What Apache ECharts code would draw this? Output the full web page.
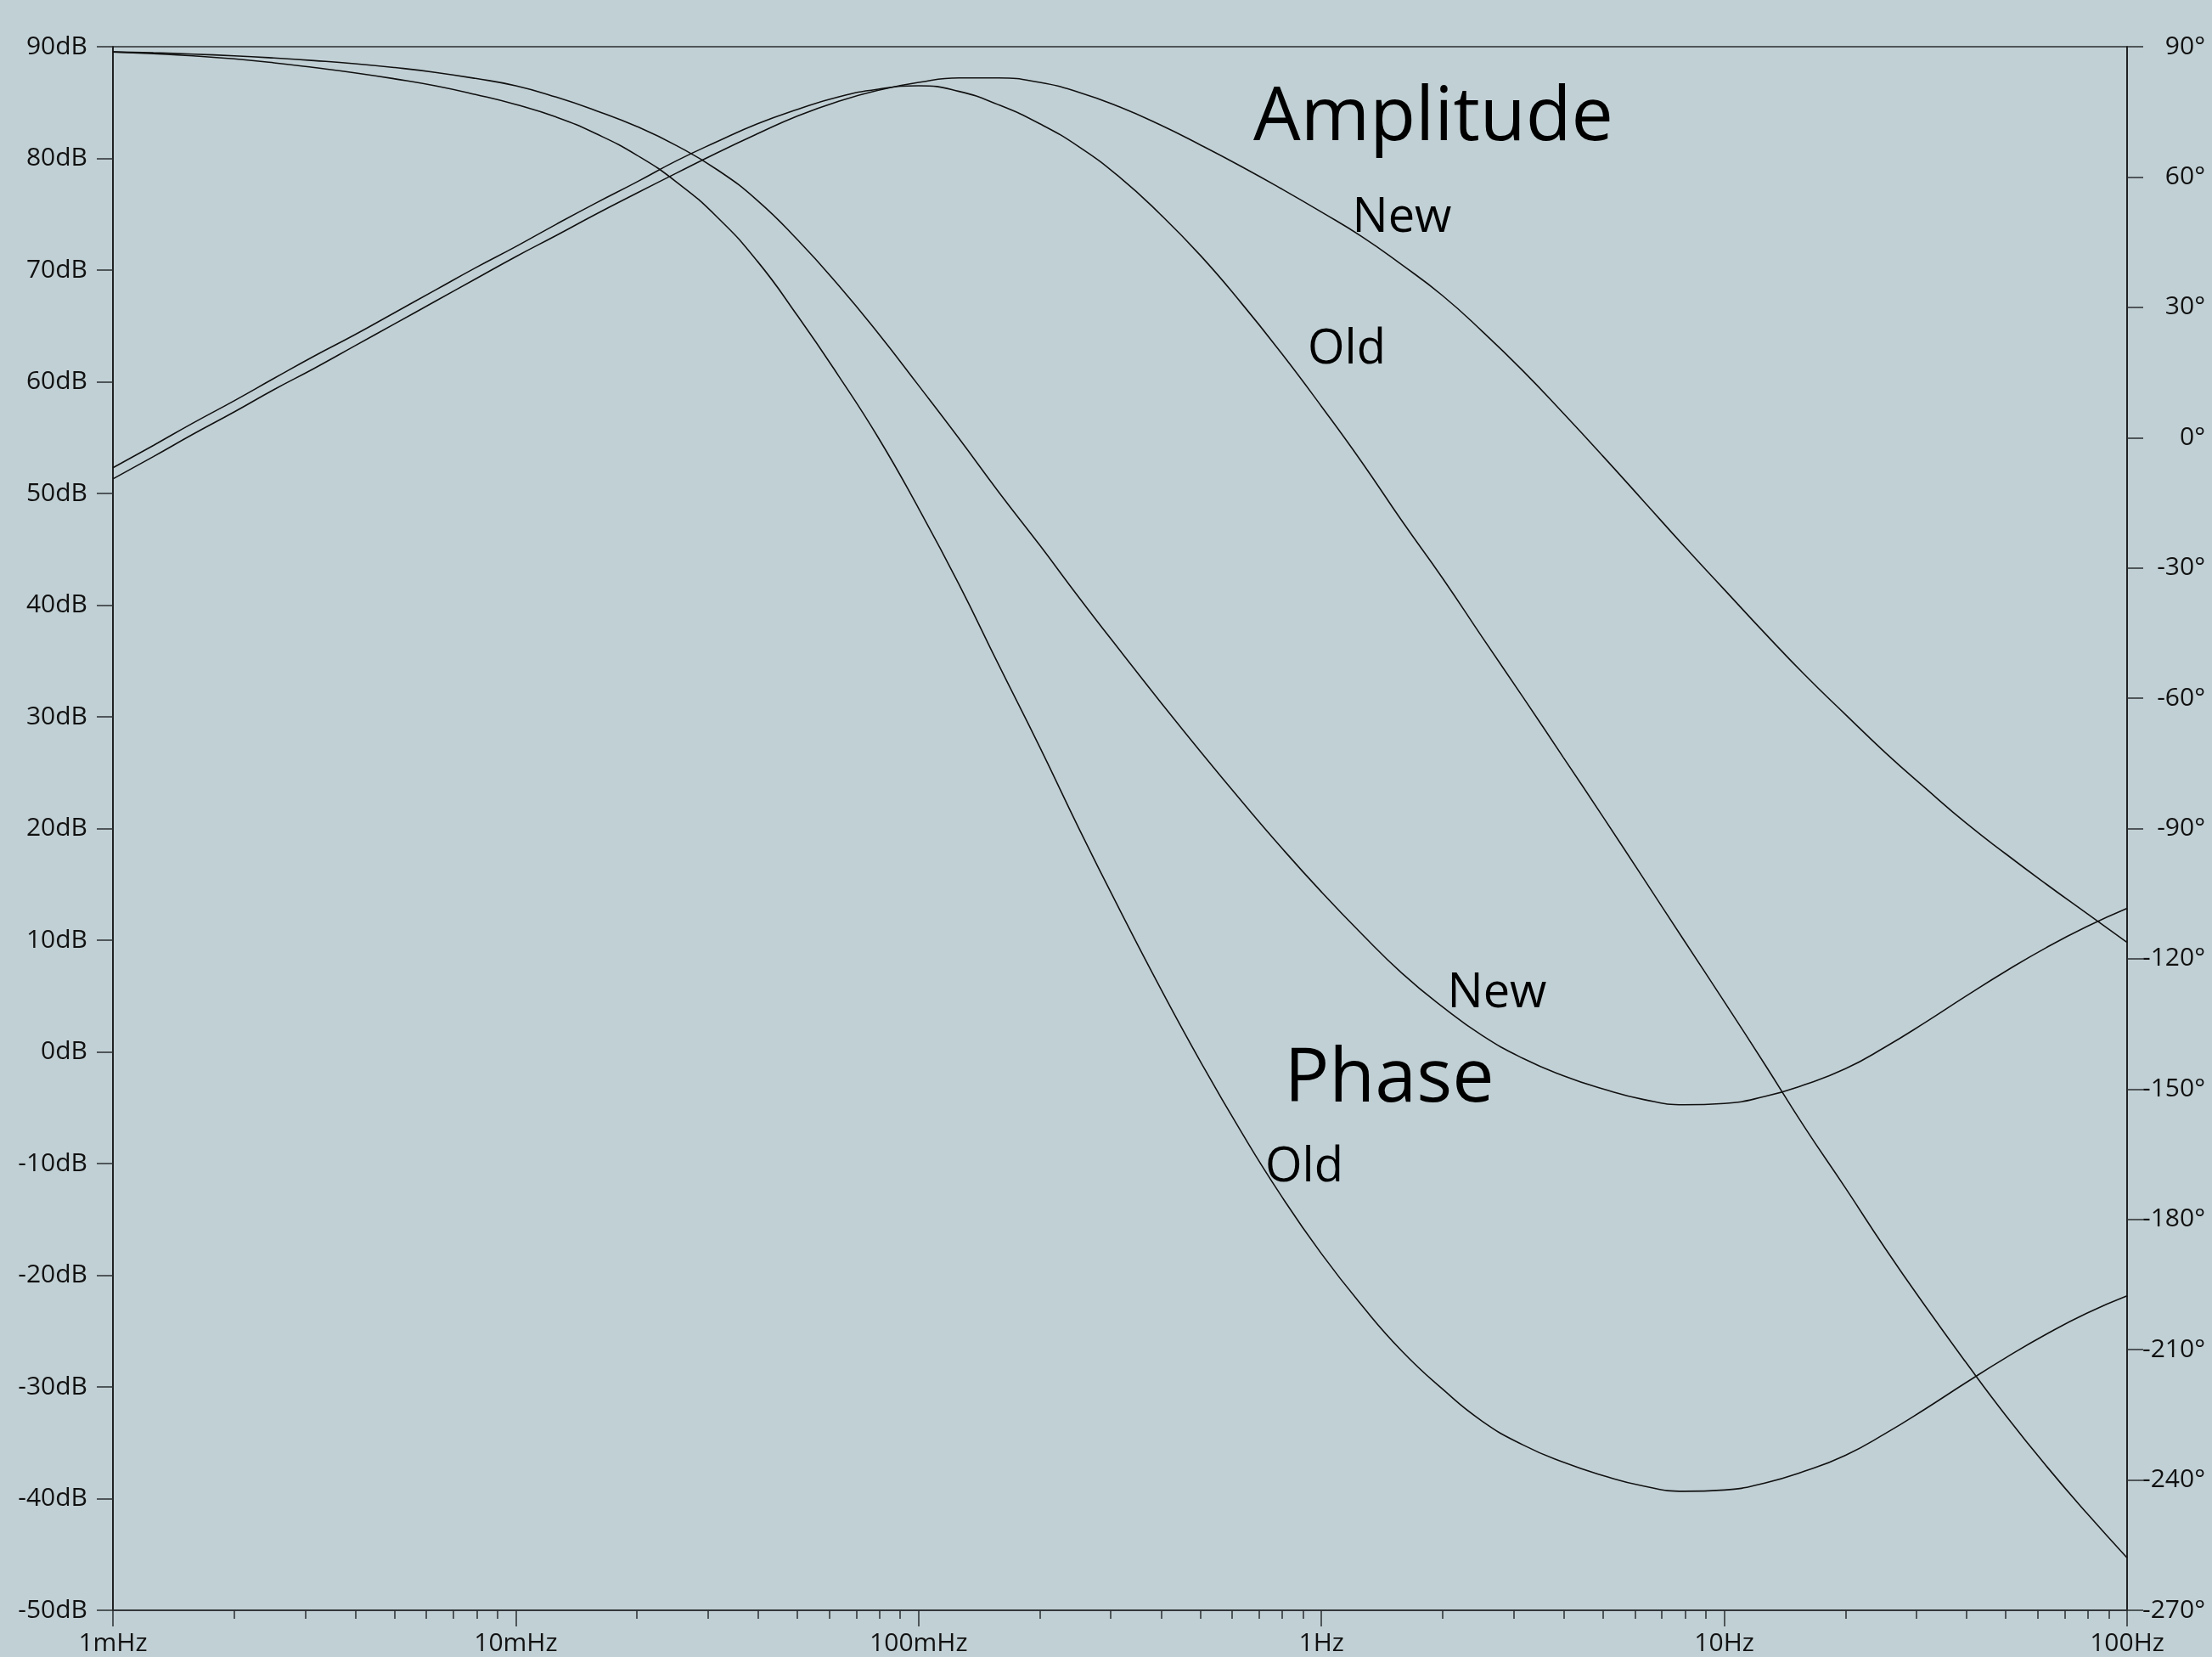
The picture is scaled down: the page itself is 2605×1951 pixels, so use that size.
<!DOCTYPE html>
<html>
<head>
<meta charset="utf-8">
<title>Amplitude / Phase</title>
<script src="https://cdn.jsdelivr.net/npm/echarts@6/dist/echarts.min.js"></script>
<style>
  html, body { margin: 0; padding: 0; background: #c1d0d5; }
  #chart { width: 2605px; height: 1951px; }
</style>
</head>
<body>
<div id="chart"></div>
<script>
// frequency ticks (Hz) and their labels
const freqTicks = [0.001, 0.01, 0.1, 1, 10, 100];
const freqTickLabels = ["1mHz", "10mHz", "100mHz", "1Hz", "10Hz", "100Hz"];

// sample frequencies, Hz (ten per decade)
const freq = [
  0.001, 0.00126, 0.00158, 0.002, 0.00251, 0.00316, 0.00398, 0.00501, 0.00631, 0.00794,
  0.01, 0.0126, 0.0158, 0.02, 0.0251, 0.0316, 0.0398, 0.0501, 0.0631, 0.0794,
  0.1, 0.126, 0.158, 0.2, 0.251, 0.316, 0.398, 0.501, 0.631, 0.794,
  1, 1.26, 1.58, 2, 2.51, 3.16, 3.98, 5.01, 6.31, 7.94,
  10, 12.6, 15.8, 20, 25.1, 31.6, 39.8, 50.1, 63.1, 79.4, 100,
];

// amplitude, dB
const ampOld = [
  52.3, 54.3, 56.3, 58.3, 60.3, 62.3, 64.2, 66.2, 68.2, 70.2,
  72.1, 74.1, 76.0, 77.9, 79.8, 81.5, 83.1, 84.4, 85.5, 86.2,
  86.5, 86.0, 84.8, 83.1, 81.0, 78.3, 75.0, 71.3, 67.1, 62.6,
  57.8, 52.8, 47.6, 42.4, 37.1, 31.8, 26.4, 21.0, 15.5, 10.0,
  4.5, -1.1, -6.7, -12.2, -17.6, -22.8, -27.8, -32.6, -37.1, -41.3, -45.3,
];
const ampNew = [
  51.3, 53.3, 55.3, 57.3, 59.3, 61.2, 63.2, 65.2, 67.2, 69.2,
  71.2, 73.1, 75.0, 76.9, 78.7, 80.5, 82.2, 83.8, 85.1, 86.1,
  86.8, 87.2, 87.2, 86.8, 85.9, 84.6, 83.0, 81.2, 79.3, 77.3,
  75.2, 73.0, 70.5, 67.7, 64.5, 61.0, 57.2, 53.3, 49.3, 45.3,
  41.4, 37.5, 33.8, 30.2, 26.8, 23.6, 20.5, 17.7, 15.0, 12.4, 9.8,
];

// phase, degrees
const phaseOld = [
  88.8, 88.4, 87.9, 87.2, 86.3, 85.2, 84.0, 82.6, 81.0, 79.0,
  76.7, 73.8, 70.0, 65.0, 58.8, 50.8, 40.6, 28.0, 14.4, 0.0,
  -16.3, -33.8, -52.3, -71.3, -90.3, -108.8, -126.7, -143.7, -159.7, -174.5,
  -187.9, -199.8, -210.2, -219.1, -226.5, -231.9, -235.9, -239.0, -241.4, -242.6,
  -242.3, -240.7, -238.0, -234.3, -229.3, -223.6, -217.6, -211.8, -206.4, -201.6, -197.6,
];
const phaseNew = [
  88.8, 88.6, 88.3, 87.9, 87.4, 86.8, 86.1, 85.2, 84.1, 82.7,
  81.0, 78.4, 75.3, 71.6, 67.2, 61.7, 54.6, 45.5, 35.2, 24.0,
  12.0, -0.2, -12.5, -24.8, -37.0, -49.0, -60.8, -72.3, -83.5, -94.3,
  -104.6, -114.3, -123.2, -131.1, -137.7, -142.9, -146.9, -150.0, -152.4, -153.6,
  -153.3, -151.7, -149.0, -145.3, -140.3, -134.6, -128.6, -122.8, -117.4, -112.6, -108.4,
];

const FONT = "'Open Sans', 'Noto Sans', sans-serif";
const INK = "#111";
const AXIS = "#2a2e30";

function pairs(xs, ys) {
  return xs.map((x, i) => [x, ys[i]]);
}

function freqLabel(value) {
  const idx = freqTicks.findIndex((t) => Math.abs(value / t - 1) < 1e-6);
  return idx >= 0 ? freqTickLabels[idx] : "";
}

function curve(name, values, yAxisIndex) {
  return {
    name,
    type: "line",
    yAxisIndex,
    data: pairs(freq, values),
    symbol: "none",
    smooth: 0.5,
    silent: true,
    lineStyle: { color: INK, width: 1.6 },
  };
}

function note(text, x, y, size) {
  return {
    type: "text",
    x,
    y,
    silent: true,
    style: {
      text,
      fill: "#000",
      fontFamily: FONT,
      fontSize: size,
      align: "center",
      verticalAlign: "middle",
    },
  };
}

const chart = echarts.init(document.getElementById("chart"));

chart.setOption({
  animation: false,
  backgroundColor: "#c1d0d5",
  grid: {
    left: 133,
    right: 100,
    top: 55,
    bottom: 55,
    show: true,
    borderColor: AXIS,
    borderWidth: 1.5,
    backgroundColor: "transparent",
  },
  xAxis: {
    type: "log",
    logBase: 10,
    min: 0.001,
    max: 100,
    axisLine: { onZero: false, lineStyle: { color: AXIS, width: 1.5 } },
    axisTick: { show: true, length: 19, lineStyle: { color: AXIS, width: 1.5 } },
    minorTick: { show: true, splitNumber: 9, length: 10, lineStyle: { color: AXIS, width: 1.5 } },
    splitLine: { show: false },
    minorSplitLine: { show: false },
    axisLabel: {
      margin: 24,
      color: INK,
      fontFamily: FONT,
      fontSize: 30,
      formatter: freqLabel,
    },
  },
  yAxis: [
    {
      type: "value",
      position: "left",
      min: -50,
      max: 90,
      interval: 10,
      axisLine: { show: true, lineStyle: { color: INK, width: 1.5 } },
      axisTick: { show: true, length: 19, lineStyle: { color: AXIS, width: 1.5 } },
      splitLine: { show: false },
      axisLabel: {
        margin: 30,
        color: INK,
        fontFamily: FONT,
        fontSize: 30,
        formatter: "{value}dB",
      },
    },
    {
      type: "value",
      position: "right",
      min: -270,
      max: 90,
      interval: 30,
      axisLine: { show: true, lineStyle: { color: INK, width: 1.5 } },
      axisTick: { show: true, length: 19, lineStyle: { color: AXIS, width: 1.5 } },
      splitLine: { show: false },
      axisLabel: {
        margin: 92,
        align: "right",
        color: INK,
        fontFamily: FONT,
        fontSize: 30,
        formatter: "{value}°",
      },
    },
  ],
  series: [
    curve("Amplitude Old", ampOld, 0),
    curve("Amplitude New", ampNew, 0),
    curve("Phase Old", phaseOld, 1),
    curve("Phase New", phaseNew, 1),
  ],
  graphic: [
    note("Amplitude", 1688, 140, 88),
    note("New", 1651, 257, 56),
    note("Old", 1586, 412, 56),
    note("New", 1763, 1170, 56),
    note("Phase", 1636, 1272, 88),
    note("Old", 1536, 1375, 56),
  ],
});
</script>
</body>
</html>
